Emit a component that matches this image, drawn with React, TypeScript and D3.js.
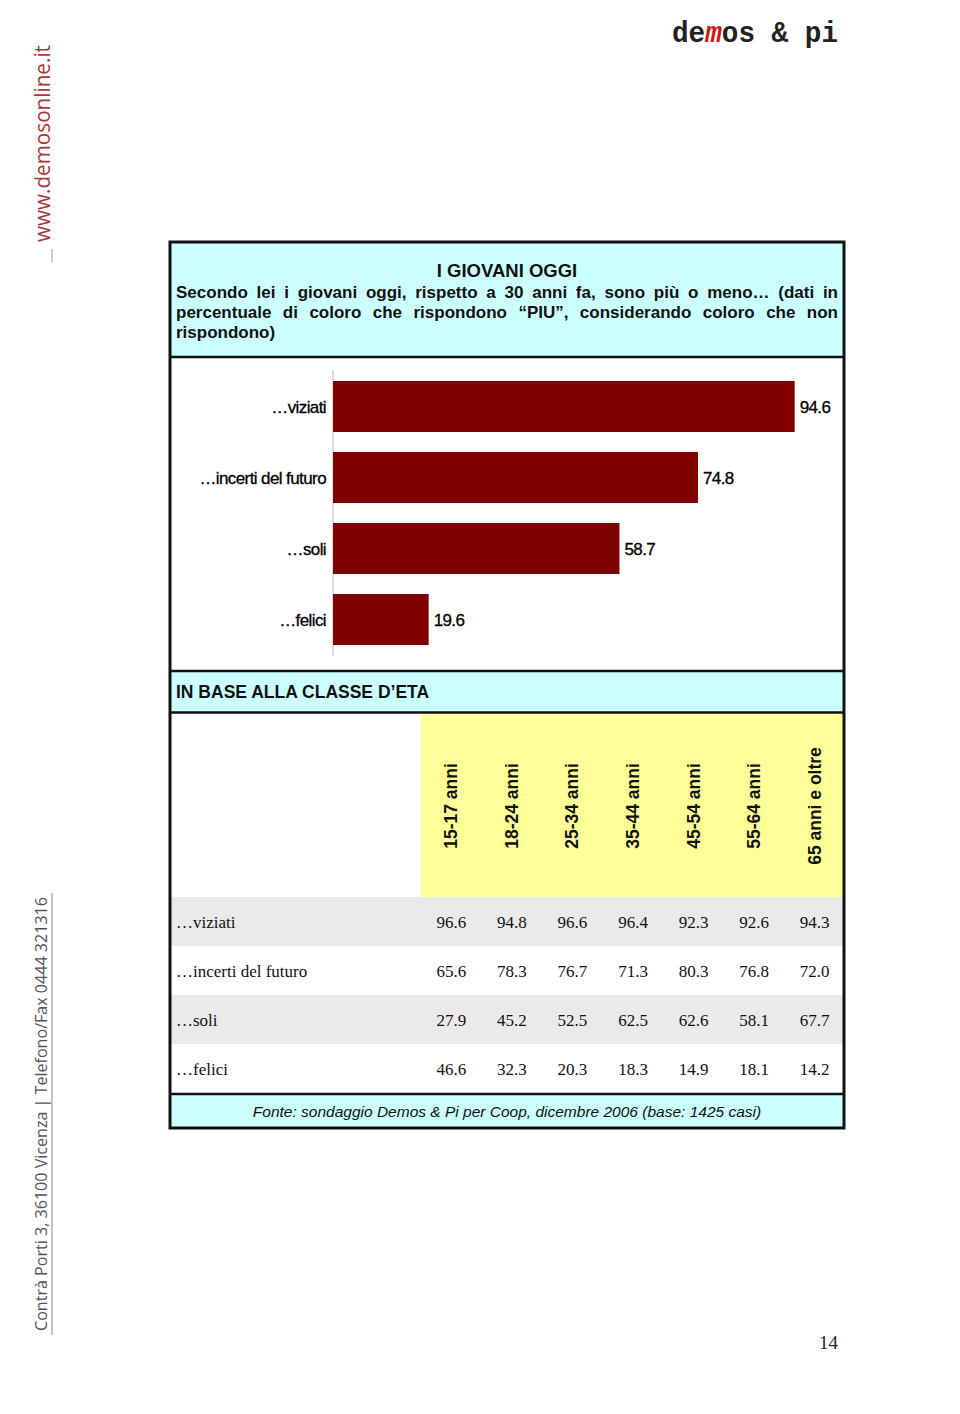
import React, { useMemo } from "react";
import * as d3 from "d3";

const categories = ["…viziati", "…incerti del futuro", "…soli", "…felici"];
const totals = [94.6, 74.8, 58.7, 19.6];
const ageClasses = ["15-17 anni", "18-24 anni", "25-34 anni", "35-44 anni", "45-54 anni", "55-64 anni", "65 anni e oltre"];
const viziati = [96.6, 94.8, 96.6, 96.4, 92.3, 92.6, 94.3];
const incerti = [65.6, 78.3, 76.7, 71.3, 80.3, 76.8, 72.0];
const soli = [27.9, 45.2, 52.5, 62.5, 62.6, 58.1, 67.7];
const felici = [46.6, 32.3, 20.3, 18.3, 14.9, 18.1, 14.2];
const tableRows = [viziati, incerti, soli, felici];

const subtitleLines = [
  "Secondo lei i giovani oggi, rispetto a 30 anni fa, sono più o meno… (dati in",
  "percentuale di coloro che rispondono “PIU”, considerando coloro che non",
];
const subtitleLast = "rispondono)";

const SANS = "'Liberation Sans', Arial, sans-serif";
const SERIF = "'Liberation Serif', 'Times New Roman', serif";
const W = 960;
const H = 1414;

function justify(line: string, font: string, x0: number, x1: number) {
  const words = line.split(" ");
  let widths: number[] = words.map((w) => w.length * 9);
  try {
    const c = document.createElement("canvas").getContext("2d");
    if (c) {
      c.font = font;
      widths = words.map((w) => c.measureText(w).width);
    }
  } catch (e) {}
  const total = widths.reduce((a, b) => a + b, 0);
  const gap = (x1 - x0 - total) / Math.max(1, words.length - 1);
  const xs: number[] = [];
  let x = x0;
  words.forEach((_, i) => {
    xs.push(x);
    x += widths[i] + gap;
  });
  return words.map((w, i) => ({ w, x: xs[i] }));
}

export default function App() {
  const L = 170, R = 844;
  const x = d3.scaleLinear().domain([0, 100]).range([333, 821]);
  const y = d3.scaleBand<string>().domain(categories).range([371, 655]).paddingInner(20 / 71).paddingOuter(10 / 71);
  const col = d3.scaleBand<string>().domain(ageClasses).range([421, 845]);
  const rowY = d3.scaleBand<number>().domain([0, 1, 2, 3]).range([897, 1093]);

  const subFont = `bold 17px 'Liberation Sans'`;
  const justified = useMemo(
    () => subtitleLines.map((l) => justify(l, subFont, 176, 838)),
    []
  );

  return (
    <svg width={W} height={H} style={{ display: "block", position: "absolute", left: 0, top: 0 }}>
      <rect x={0} y={0} width={W} height={H} fill="#fff" />
      {/* logo */}
      <text x={672} y={42} fontFamily="'Liberation Mono', 'DejaVu Sans Mono', monospace" fontWeight="bold" fontSize={29} textLength={166} lengthAdjust="spacingAndGlyphs" fill="#222">
        de<tspan fill="#d01818" fontStyle="italic">m</tspan>os &amp; pi
      </text>
      {/* left side texts */}
      <text transform="translate(50,242) rotate(-90)" fontFamily="'Open Sans', sans-serif" fontSize={21} fill="#a8383c" textLength={197} lengthAdjust="spacingAndGlyphs">
        www.demosonline.it
      </text>
      <line x1={52} x2={52} y1={249} y2={262} stroke="#999" strokeWidth={1} />
      <text transform="translate(47,1331) rotate(-90)" fontFamily="'Open Sans', sans-serif" fontSize={16.5} fill="#555" textLength={434} lengthAdjust="spacingAndGlyphs">
        Contrà Porti 3, 36100 Vicenza | Telefono/Fax 0444 321316
      </text>
      <line x1={52} x2={52} y1={893} y2={1335} stroke="#888" strokeWidth={1} />

      {/* backgrounds */}
      <rect x={L} y={242} width={R - L} height={115} fill="#ccffff" />
      <rect x={L} y={671} width={R - L} height={41} fill="#ccffff" />
      <rect x={421} y={712} width={R - 421} height={185} fill="#ffff99" />
      {[0, 2].map((i) => (
        <rect key={i} x={L} y={rowY(i)!} width={R - L} height={rowY.bandwidth()} fill="#eaeaea" />
      ))}
      <rect x={L} y={1094} width={R - L} height={35} fill="#ccffff" />

      {/* title */}
      <text x={507} y={277} textAnchor="middle" fontFamily={SANS} fontWeight="bold" fontSize={18.5} fill="#111">
        I GIOVANI OGGI
      </text>
      {justified.map((line, li) => (
        <text key={li} y={298 + li * 20} fontFamily={SANS} fontWeight="bold" fontSize={17} fill="#111">
          {line.map((w, i) => (
            <tspan key={i} x={w.x}>{w.w}</tspan>
          ))}
        </text>
      ))}
      <text x={176} y={338} fontFamily={SANS} fontWeight="bold" fontSize={17} fill="#111">
        {subtitleLast}
      </text>

      {/* bar chart */}
      <line x1={333} x2={333} y1={370} y2={656} stroke="#bbb" strokeWidth={1} />
      {categories.map((c, i) => (
        <g key={c}>
          <rect x={x(0)} y={y(c)!} width={x(totals[i]) - x(0)} height={y.bandwidth()} fill="#800000" />
          <text x={326} y={y(c)! + y.bandwidth() / 2 + 6} textAnchor="end" fontFamily={SANS} fontSize={17} letterSpacing={-0.6} stroke="#000" strokeWidth={0.3} fill="#000">
            {c}
          </text>
          <text x={x(totals[i]) + 5} y={y(c)! + y.bandwidth() / 2 + 6} fontFamily={SANS} fontSize={17} letterSpacing={-0.6} stroke="#000" strokeWidth={0.3} fill="#000">
            {totals[i].toFixed(1)}
          </text>
        </g>
      ))}

      {/* section header */}
      <text x={176} y={698} fontFamily={SANS} fontWeight="bold" fontSize={17.5} fill="#111">
        IN BASE ALLA CLASSE D’ETA
      </text>

      {/* column headers */}
      {ageClasses.map((a) => (
        <text key={a} transform={`translate(${col(a)! + col.bandwidth() / 2 + 6},806) rotate(-90)`} textAnchor="middle" fontFamily={SANS} fontWeight="bold" fontSize={17.5} fill="#111">
          {a}
        </text>
      ))}

      {/* table */}
      {tableRows.map((vals, r) => (
        <g key={r}>
          <text x={176} y={rowY(r)! + rowY.bandwidth() / 2 + 6} fontFamily={SERIF} fontSize={17} fill="#111">
            {categories[r]}
          </text>
          {vals.map((v, j) => (
            <text key={j} x={col(ageClasses[j])! + col.bandwidth() / 2} y={rowY(r)! + rowY.bandwidth() / 2 + 6} textAnchor="middle" fontFamily={SERIF} fontSize={17} fill="#111">
              {v.toFixed(1)}
            </text>
          ))}
        </g>
      ))}

      <text x={507} y={1117} textAnchor="middle" fontFamily={SANS} fontStyle="italic" fontSize={15.5} fill="#111">
        Fonte: sondaggio Demos &amp; Pi per Coop, dicembre 2006 (base: 1425 casi)
      </text>

      {/* borders */}
      <g stroke="#111" fill="none">
        <rect x={L} y={242} width={R - L} height={886} strokeWidth={3} />
        <line x1={L} x2={R} y1={357} y2={357} strokeWidth={2.5} />
        <line x1={L} x2={R} y1={671} y2={671} strokeWidth={2.5} />
        <line x1={L} x2={R} y1={712.5} y2={712.5} strokeWidth={2.5} />
        <line x1={L} x2={R} y1={1094} y2={1094} strokeWidth={2.5} />
      </g>

      <text x={838} y={1349} textAnchor="end" fontFamily={SERIF} fontSize={19} fill="#222">
        14
      </text>
    </svg>
  );
}
